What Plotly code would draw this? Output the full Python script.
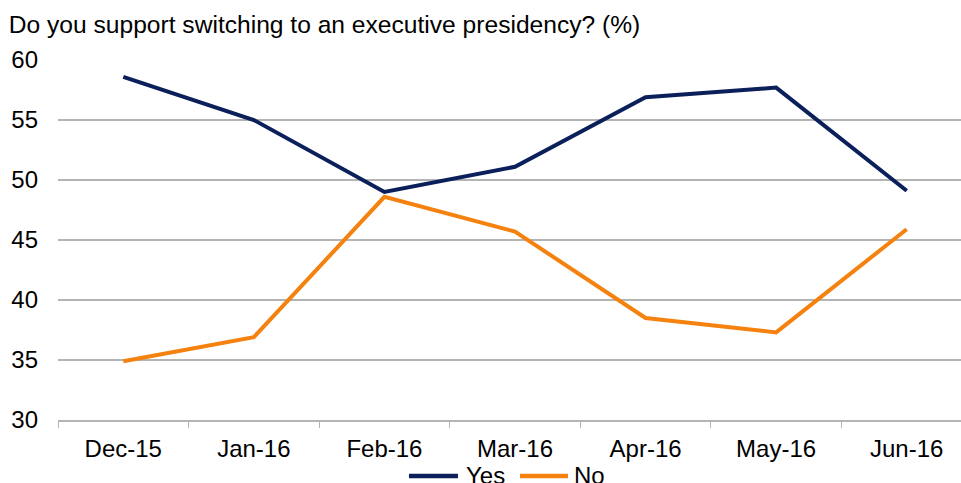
import plotly.graph_objects as go

categories = ["Dec-15", "Jan-16", "Feb-16", "Mar-16", "Apr-16", "May-16", "Jun-16"]
yes_values = [58.6, 55.0, 49.0, 51.1, 56.9, 57.7, 49.1]
no_values = [34.9, 36.9, 48.6, 45.7, 38.5, 37.3, 45.9]
y_ticks = [30, 35, 40, 45, 50, 55, 60]
series_names = ["Yes", "No"]
series_colors = ["#0b1f5a", "#f5820f"]

font_family = "Liberation Sans, Arial, sans-serif"
FS = 24

fig = go.Figure()
for name, vals, col in zip(series_names, [yes_values, no_values], series_colors):
    fig.add_trace(go.Scatter(x=categories, y=vals, name=name, mode="lines",
                             line=dict(color=col, width=4), showlegend=False))

# manual legend (line swatches + labels) placed below the axis, as in the reference
legend_pos = [(0.384, 0.4376, 0.4442), (0.5055, 0.558, 0.5624)]
for (x0, x1, xt), name, col in zip(legend_pos, series_names, series_colors):
    fig.add_shape(type="line", xref="paper", yref="paper", x0=x0, x1=x1,
                  y0=-0.1556, y1=-0.1556, line=dict(color=col, width=4.5))
    fig.add_annotation(xref="paper", yref="paper", x=xt, y=-0.1528, text=name,
                       showarrow=False, xanchor="left", yanchor="middle",
                       font=dict(size=FS, color="#000000"))

fig.update_layout(
    width=972, height=510,
    margin=dict(l=58, r=0, t=60, b=90),
    paper_bgcolor="white", plot_bgcolor="white",
    font=dict(family=font_family, size=FS, color="#000000"),
    title=dict(text="Do you support switching to an executive presidency? (%)",
               x=0.009, xanchor="left", y=1 - 24 / 510, yanchor="middle",
               font=dict(size=24.6, color="#000000")),
    showlegend=False,
    xaxis=dict(type="category", range=[-0.5, 6.5], showgrid=False,
               showline=True, linecolor="#b4b4b4", linewidth=1.5,
               ticks="outside", tickson="boundaries", ticklen=6, tickcolor="#b4b4b4",
               ticklabelstandoff=6, tickfont=dict(size=FS)),
    yaxis=dict(range=[30, 60], tickvals=y_ticks, showgrid=True, gridcolor="#b4b4b4",
               gridwidth=1.5, zeroline=False, showline=False, ticks="",
               ticklabelstandoff=19, tickfont=dict(size=FS)),
)

fig.write_html("out.html", config={"displayModeBar": False},
               post_script="document.body.style.margin='0';document.body.style.overflow='hidden';")
